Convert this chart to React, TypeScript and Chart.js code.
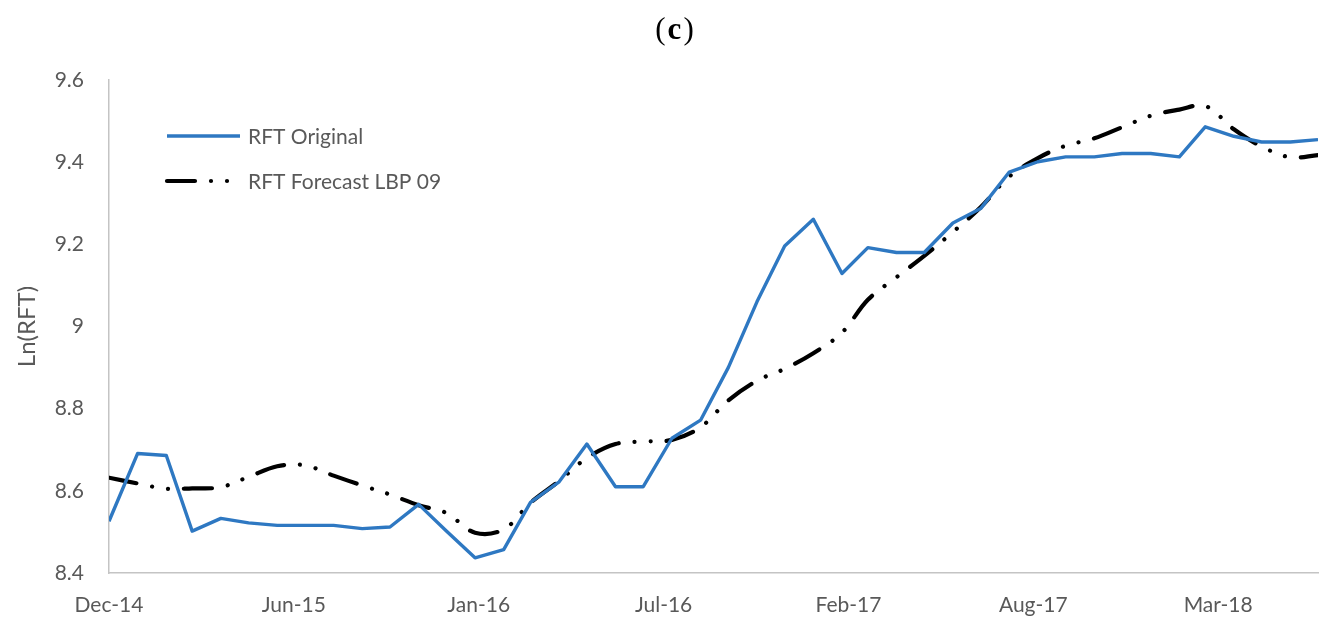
import { useEffect, useRef } from 'react';
import { Chart, registerables } from 'chart.js';

Chart.register(...registerables);

// Monthly observations (first day of each month)
const months = [
  '2014-12', '2015-01', '2015-02', '2015-03', '2015-04', '2015-05', '2015-06', '2015-07',
  '2015-08', '2015-09', '2015-10', '2015-11', '2015-12', '2016-01', '2016-02', '2016-03',
  '2016-04', '2016-05', '2016-06', '2016-07', '2016-08', '2016-09', '2016-10', '2016-11',
  '2016-12', '2017-01', '2017-02', '2017-03', '2017-04', '2017-05', '2017-06', '2017-07',
  '2017-08', '2017-09', '2017-10', '2017-11', '2017-12', '2018-01', '2018-02', '2018-03',
  '2018-04', '2018-05', '2018-06', '2018-07',
];

const rftOriginal = [
  8.526, 8.691, 8.686, 8.502, 8.533, 8.522, 8.516, 8.516,
  8.516, 8.508, 8.512, 8.567, 8.502, 8.437, 8.457, 8.572,
  8.622, 8.714, 8.610, 8.610, 8.728, 8.772, 8.900, 9.060,
  9.196, 9.261, 9.129, 9.192, 9.180, 9.180, 9.252, 9.287,
  9.376, 9.401, 9.413, 9.413, 9.421, 9.421, 9.413, 9.486,
  9.463, 9.449, 9.449, 9.455,
];

const rftForecast = [
  8.632, 8.618, 8.605, 8.606, 8.609, 8.634, 8.660, 8.662,
  8.637, 8.613, 8.591, 8.565, 8.546, 8.498, 8.506, 8.571,
  8.624, 8.680, 8.714, 8.720, 8.724, 8.755, 8.820, 8.868,
  8.897, 8.935, 8.985, 9.065, 9.120, 9.172, 9.230, 9.290,
  9.365, 9.410, 9.440, 9.458, 9.485, 9.513, 9.528, 9.537,
  9.480, 9.438, 9.412, 9.417,
];

const seriesNames = ['RFT Original', 'RFT Forecast LBP 09'];
const xTickLabels = ['Dec-14', 'Jun-15', 'Jan-16', 'Jul-16', 'Feb-17', 'Aug-17', 'Mar-18'];
const xTickStepDays = 200;
const yTickLabels = ['8.4', '8.6', '8.8', '9', '9.2', '9.4', '9.6'];
const yAxisTitle = 'Ln(RFT)';
const panelLetter = 'c';

const DAY_MS = 86400000;
const monthToDay = (m: string) => {
  const [y, mo] = m.split('-').map(Number);
  const [y0, m0] = months[0].split('-').map(Number);
  return (Date.UTC(y, mo - 1, 1) - Date.UTC(y0, m0 - 1, 1)) / DAY_MS;
};

const TEXT_COLOR = '#595959';
const BLUE = '#2E78C2';
const FONT = 'Lato, "Open Sans", sans-serif';

const overlayPlugin = {
  id: 'overlay',
  afterDraw(chart: any) {
    const { ctx, chartArea, width } = chart;
    ctx.save();
    // Panel title "(c)" with bold letter
    ctx.fillStyle = '#000';
    ctx.textBaseline = 'middle';
    const regular = '31px "Liberation Serif", "DejaVu Serif", serif';
    const bold = 'bold 31px "Liberation Serif", "DejaVu Serif", serif';
    ctx.font = regular;
    const wOpen = ctx.measureText('(').width;
    const wClose = ctx.measureText(')').width;
    ctx.font = bold;
    const wLetter = ctx.measureText(panelLetter).width;
    const gap = 2;
    const total = wOpen + wLetter + wClose + 2 * gap;
    let tx = width / 2 + 7 - total / 2;
    const ty = 31;
    ctx.textAlign = 'left';
    ctx.font = regular;
    ctx.fillText('(', tx, ty);
    tx += wOpen + gap;
    ctx.font = bold;
    ctx.fillText(panelLetter, tx, ty);
    tx += wLetter + gap;
    ctx.font = regular;
    ctx.fillText(')', tx, ty);

    // Legend inside plot area
    const x0 = chartArea.left + 58;
    const x1 = chartArea.left + 131;
    const rows = [chartArea.top + 56, chartArea.top + 101];
    chart.data.datasets.forEach((ds: any, i: number) => {
      const y = rows[i];
      ctx.beginPath();
      ctx.strokeStyle = ds.borderColor;
      ctx.lineWidth = ds.borderWidth;
      ctx.lineCap = ds.borderCapStyle || 'butt';
      ctx.setLineDash(ds.borderDash || []);
      ctx.moveTo(x0, y);
      ctx.lineTo(x1, y);
      ctx.stroke();
      ctx.setLineDash([]);
      ctx.fillStyle = TEXT_COLOR;
      ctx.font = `21px ${FONT}`;
      ctx.textAlign = 'left';
      ctx.textBaseline = 'middle';
      ctx.fillText(seriesNames[i], chartArea.left + 139, y + 1);
    });
    ctx.restore();
  },
};

export default function App() {
  const canvasRef = useRef<HTMLCanvasElement | null>(null);

  useEffect(() => {
    document.body.style.margin = '0';
    const canvas = canvasRef.current;
    if (!canvas) return;
    const xs = months.map(monthToDay);
    const xMax = xs[xs.length - 1];

    const chart = new Chart(canvas, {
      type: 'line',
      data: {
        datasets: [
          {
            label: seriesNames[0],
            data: rftOriginal.map((v, i) => ({ x: xs[i], y: v })),
            borderColor: BLUE,
            backgroundColor: BLUE,
            borderWidth: 3.4,
            pointRadius: 0,
            tension: 0,
            borderJoinStyle: 'round',
            borderCapStyle: 'butt',
          },
          {
            label: seriesNames[1],
            data: rftForecast.map((v, i) => ({ x: xs[i], y: v })),
            borderColor: '#000000',
            backgroundColor: '#000000',
            borderWidth: 4.2,
            pointRadius: 0,
            tension: 0.35,
            borderDash: [28, 16, 0.01, 16, 0.01, 16],
            borderCapStyle: 'round',
            borderJoinStyle: 'round',
          },
        ],
      },
      options: {
        animation: false,
        responsive: true,
        maintainAspectRatio: false,
        layout: { padding: { top: 80, right: 17, left: 0, bottom: 0 } },
        plugins: {
          legend: { display: false },
          tooltip: { enabled: false },
          title: { display: false },
        },
        scales: {
          x: {
            type: 'linear',
            min: 0,
            max: xMax,
            bounds: 'data',
            grid: { display: false, drawTicks: false },
            border: { display: true, color: '#c4c4c4', width: 1.5 },
            afterBuildTicks: (scale: any) => {
              scale.ticks = xTickLabels.map((_, i) => ({ value: i * xTickStepDays }));
            },
            afterFit: (scale: any) => {
              scale.height = 58;
            },
            ticks: {
              autoSkip: false,
              maxRotation: 0,
              minRotation: 0,
              padding: 20,
              color: TEXT_COLOR,
              font: { family: FONT, size: 21 },
              callback: (_v: any, i: number) => xTickLabels[i],
            },
          },
          y: {
            type: 'linear',
            min: 8.4,
            max: 9.6,
            grid: { display: false, drawTicks: false },
            border: { display: true, color: '#c4c4c4', width: 1.5 },
            afterBuildTicks: (scale: any) => {
              scale.ticks = yTickLabels.map((s) => ({ value: parseFloat(s) }));
            },
            afterFit: (scale: any) => {
              scale.width = 109;
            },
            ticks: {
              padding: 25,
              color: TEXT_COLOR,
              font: { family: FONT, size: 21 },
              callback: (_v: any, i: number) => yTickLabels[i],
            },
            title: {
              display: true,
              text: yAxisTitle,
              color: TEXT_COLOR,
              font: { family: FONT, size: 24 },
              padding: { top: 13, bottom: 0 },
            },
          },
        },
      },
      plugins: [overlayPlugin],
    });
    return () => chart.destroy();
  }, []);

  return (
    <div style={{ position: 'fixed', left: 0, top: 0, width: 1335, height: 631, background: '#fff' }}>
      <canvas ref={canvasRef} />
    </div>
  );
}
